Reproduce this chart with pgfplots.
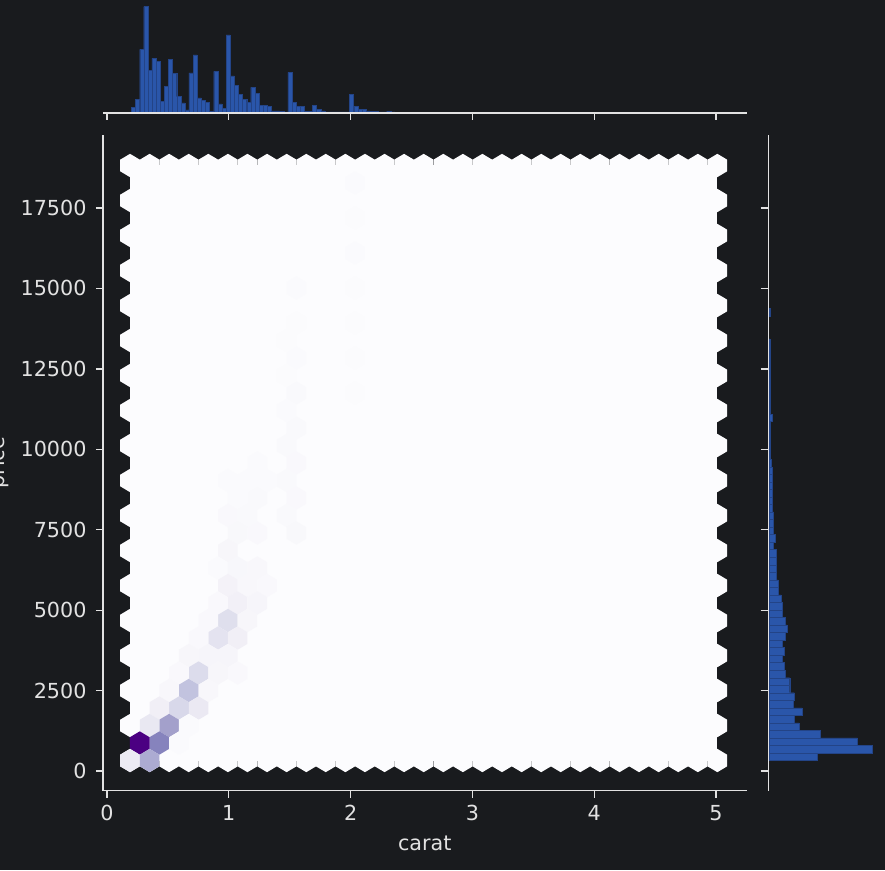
\documentclass[border=0pt]{standalone}
\usepackage{pgfplots}
\usepackage{fontspec}
\setmainfont{DejaVu Sans}
\pgfplotsset{compat=1.18}
\definecolor{figbg}{RGB}{25,27,30}
\definecolor{ink}{RGB}{226,226,226}
\definecolor{hexbg}{RGB}{252,252,254}
\definecolor{barblue}{RGB}{42,86,170}
\definecolor{baredge}{RGB}{35,68,135}
\pgfdeclareplotmark{hexb}{%
  \pgfpathmoveto{\pgfqpoint{0pt}{11.67pt}}%
  \pgfpathlineto{\pgfqpoint{9.79pt}{5.83pt}}%
  \pgfpathlineto{\pgfqpoint{9.79pt}{-5.83pt}}%
  \pgfpathlineto{\pgfqpoint{0pt}{-11.67pt}}%
  \pgfpathlineto{\pgfqpoint{-9.79pt}{-5.83pt}}%
  \pgfpathlineto{\pgfqpoint{-9.79pt}{5.83pt}}%
  \pgfpathclose
  \pgfusepathqfill}
\pgfplotsset{
  mystyle/.style={
    scale only axis,
    anchor=south west,
    axis line style={draw=ink,line width=1.3pt,-},
    tick style={draw=ink,line width=1.3pt},
    tick align=outside,
    major tick length=7pt,
    minor tick num=0,
    scaled ticks=false,
    /pgf/number format/fixed,
    /pgf/number format/1000 sep={},
    /pgf/number format/assume math mode=true,
    tick label style={font=\fontsize{20.7}{24}\selectfont,text=ink},
  },
  colormap={purplesx}{rgb255=(252,252,254) rgb255=(239,237,245) rgb255=(218,218,235) rgb255=(188,189,220) rgb255=(158,154,200) rgb255=(128,125,186) rgb255=(106,81,163) rgb255=(88,40,145) rgb255=(75,0,130)},
}
\begin{document}
\begin{tikzpicture}
\path[use as bounding box,fill=figbg] (0,0) rectangle (885pt,870pt);

% main hexbin
\begin{axis}[mystyle,
  at={(103pt,79.5pt)},width=643.5pt,height=655.5pt,
  xmin=-0.0328,xmax=5.2504,ymin=-606,ymax=19770,
  xtick={0,1,2,3,4,5},
  ytick={0,2500,5000,7500,10000,12500,15000,17500},
  axis x line*=bottom,axis y line*=left,
  xlabel={carat},ylabel={price},
  xticklabel style={yshift=-4pt},
  yticklabel style={xshift=-6pt},
  every axis x label/.style={at={(axis description cs:0.5,0)},anchor=base,yshift=-59.5pt,font=\fontsize{20.7}{24}\selectfont,text=ink},
  every axis y label/.style={at={(axis description cs:0,0.5)},xshift=-98pt,rotate=90,anchor=base,font=\fontsize{20.7}{24}\selectfont,text=ink},
  colormap name=purplesx,
  point meta min=0,point meta max=1,
]
% the field of hexagons with a count near zero
\addplot[fill=hexbg,draw=none,forget plot] coordinates {(0.189,326)(5.011,326)(5.011,18822)(0.189,18822)} --cycle;
\addplot[only marks,mark=hexb,mark options={fill=hexbg,draw=none},forget plot] coordinates {
(0.189,326)(0.189,1414)(0.189,2502)(0.189,3590)(0.189,4678)(0.189,5766)(0.189,6854)(0.189,7942)(0.189,9030)
(0.189,10118)(0.189,11206)(0.189,12294)(0.189,13382)(0.189,14470)(0.189,15558)(0.189,16646)(0.189,17734)(0.189,18822)
(5.011,326)(5.011,1414)(5.011,2502)(5.011,3590)(5.011,4678)(5.011,5766)(5.011,6854)(5.011,7942)(5.011,9030)
(5.011,10118)(5.011,11206)(5.011,12294)(5.011,13382)(5.011,14470)(5.011,15558)(5.011,16646)(5.011,17734)(5.011,18822)
(0.350,326)(0.510,326)(0.671,326)(0.832,326)(0.993,326)(1.153,326)(1.314,326)(1.475,326)(1.636,326)(1.796,326)
(1.957,326)(2.118,326)(2.279,326)(2.439,326)(2.600,326)(2.761,326)(2.922,326)(3.082,326)(3.243,326)(3.404,326)
(3.565,326)(3.725,326)(3.886,326)(4.047,326)(4.208,326)(4.368,326)(4.529,326)(4.690,326)(4.851,326)
(0.350,18822)(0.510,18822)(0.671,18822)(0.832,18822)(0.993,18822)(1.153,18822)(1.314,18822)(1.475,18822)(1.636,18822)(1.796,18822)
(1.957,18822)(2.118,18822)(2.279,18822)(2.439,18822)(2.600,18822)(2.761,18822)(2.922,18822)(3.082,18822)(3.243,18822)(3.404,18822)
(3.565,18822)(3.725,18822)(3.886,18822)(4.047,18822)(4.208,18822)(4.368,18822)(4.529,18822)(4.690,18822)(4.851,18822)
};
% hexagons with a visible count
\addplot[scatter,only marks,mark=hexb,scatter src=explicit,forget plot] coordinates {
(2.037,18278)[0.015](2.037,17190)[0.008](2.037,16102)[0.015](2.037,15014)[0.01](2.037,13926)[0.008](2.037,12838)[0.01](2.037,11750)[0.008]
(1.555,15014)[0.02](1.555,13926)[0.012](1.555,12838)[0.02](1.555,11750)[0.025](1.475,13382)[0.01](1.475,12294)[0.01]
(1.555,10662)[0.025](1.475,11206)[0.02](1.475,10118)[0.025](1.555,9574)[0.03](1.475,9030)[0.025](1.555,8486)[0.03](1.475,7942)[0.025](1.555,7398)[0.035]
(1.234,6310)[0.04](1.234,7398)[0.03](1.234,8486)[0.025](1.234,9574)[0.02](1.073,8486)[0.015](0.993,9030)[0.015](1.153,9030)[0.02](1.314,9030)[0.015]
(0.993,7942)[0.03](1.153,7942)[0.025](1.073,7398)[0.035](0.993,6854)[0.05](0.912,6310)[0.02](1.073,6310)[0.045]
(0.993,5766)[0.08](1.153,5766)[0.04](1.314,5766)[0.03](1.073,5222)[0.10](0.912,5222)[0.03](1.234,5222)[0.06]
(0.993,4678)[0.22](0.832,4678)[0.03](1.153,4678)[0.05](0.912,4134)[0.19](1.073,4134)[0.11](0.752,4134)[0.03]
(0.671,3590)[0.05](0.832,3590)[0.06](0.993,3590)[0.06](0.752,3046)[0.24](0.591,3046)[0.03](0.912,3046)[0.05](1.073,3046)[0.03]
(0.671,2502)[0.35](0.510,2502)[0.04](0.832,2502)[0.04](0.591,1958)[0.26](0.430,1958)[0.11](0.752,1958)[0.15]
(0.510,1414)[0.48](0.350,1414)[0.16](0.671,1414)[0.02]
(0.430,870)[0.60](0.269,870)[1.0](0.591,870)[0.015]
(0.189,326)[0.14](0.350,326)[0.44]
};
\end{axis}

% top marginal
\begin{axis}[mystyle,
  at={(103pt,757pt)},width=643.5pt,height=108pt,
  xmin=-0.0328,xmax=5.2504,ymin=-0.7,ymax=107.3,
  xtick={0,1,2,3,4,5},ytick=\empty,
  axis x line*=bottom,axis y line=none,
  axis on top,
  xticklabels={},
]
\addplot[ybar,bar width=0.0338,fill=barblue,draw=baredge,line width=0.3pt] coordinates {
(.217,5)(.251,12.7)(.285,63)(.318,105.7)(.352,42)(.386,54)(.420,51)(.454,11)(.487,26)(.521,52.7)
(.555,39)(.589,15.7)(.623,9.3)(.656,2.3)(.690,39.3)(.724,57.3)(.758,14.3)(.792,11.7)(.825,9.7)(.859,1)
(.893,41)(.927,8.3)(.961,4)(.994,77.5)(1.028,36.5)(1.062,27)(1.096,18)(1.130,13)(1.163,10)(1.197,25)
(1.231,19)(1.265,7)(1.299,7)(1.332,5.7)(1.366,1.3)(1.400,1.3)(1.434,1.2)(1.468,0.3)(1.501,40)(1.535,10)
(1.569,5.7)(1.603,5.7)(1.637,1)(1.670,1)(1.704,7)(1.738,3)(1.772,1.3)(1.806,0.3)(1.839,0.3)(1.873,0.3)
(1.907,0.3)(1.941,0.3)(1.975,0.3)(2.008,17.7)(2.042,5.7)(2.076,3)(2.110,3)(2.144,1.3)(2.177,1)(2.211,1)
(2.245,0.5)(2.279,0.3)(2.313,1)(2.346,0.3)(2.380,0.2)(2.414,0.2)
};
\end{axis}

% right marginal
\begin{axis}[mystyle,
  at={(768.5pt,79.5pt)},width=106pt,height=655.5pt,
  xmin=-0.5,xmax=105.5,ymin=-606,ymax=19770,
  xtick=\empty,ytick={0,2500,5000,7500,10000,12500,15000,17500},
  axis y line*=left,axis x line=none,
  axis on top,
  yticklabels={},
  major tick length=8pt,
]
\addplot[xbar,bar width=234.1,fill=barblue,draw=baredge,line width=0.3pt] coordinates {
(48,443)(103.3,677)(88.3,911)(51.3,1145)(30,1380)(25.3,1614)(33,1848)(24,2082)(25.3,2316)(20.7,2550)
(20.7,2784)(16.3,3018)(15,3252)(13.3,3486)(15,3721)(13.3,3955)(16.3,4189)(18,4423)(16.3,4657)(13.3,4891)
(13.3,5125)(12,5359)(9,5593)(9,5827)(7.3,6062)(7.3,6296)(7.3,6530)(7.3,6764)(4.3,6998)(6,7232)
(4.3,7466)(4.5,7700)(4.5,7934)(3.5,8168)(3.5,8403)(3,8637)(3,8871)(3,9105)(3,9339)(2.5,9573)
(1.5,9807)(1.5,10041)(1.5,10275)(1.5,10509)(1.5,10744)(3,10978)(1.5,11212)(1.2,11446)(1.2,11680)(1.2,11914)
(1,12148)(1,12382)(1,12616)(1,12850)(1,13085)(0.8,13319)(1.5,14255)
};
\end{axis}
\end{tikzpicture}
\end{document}
